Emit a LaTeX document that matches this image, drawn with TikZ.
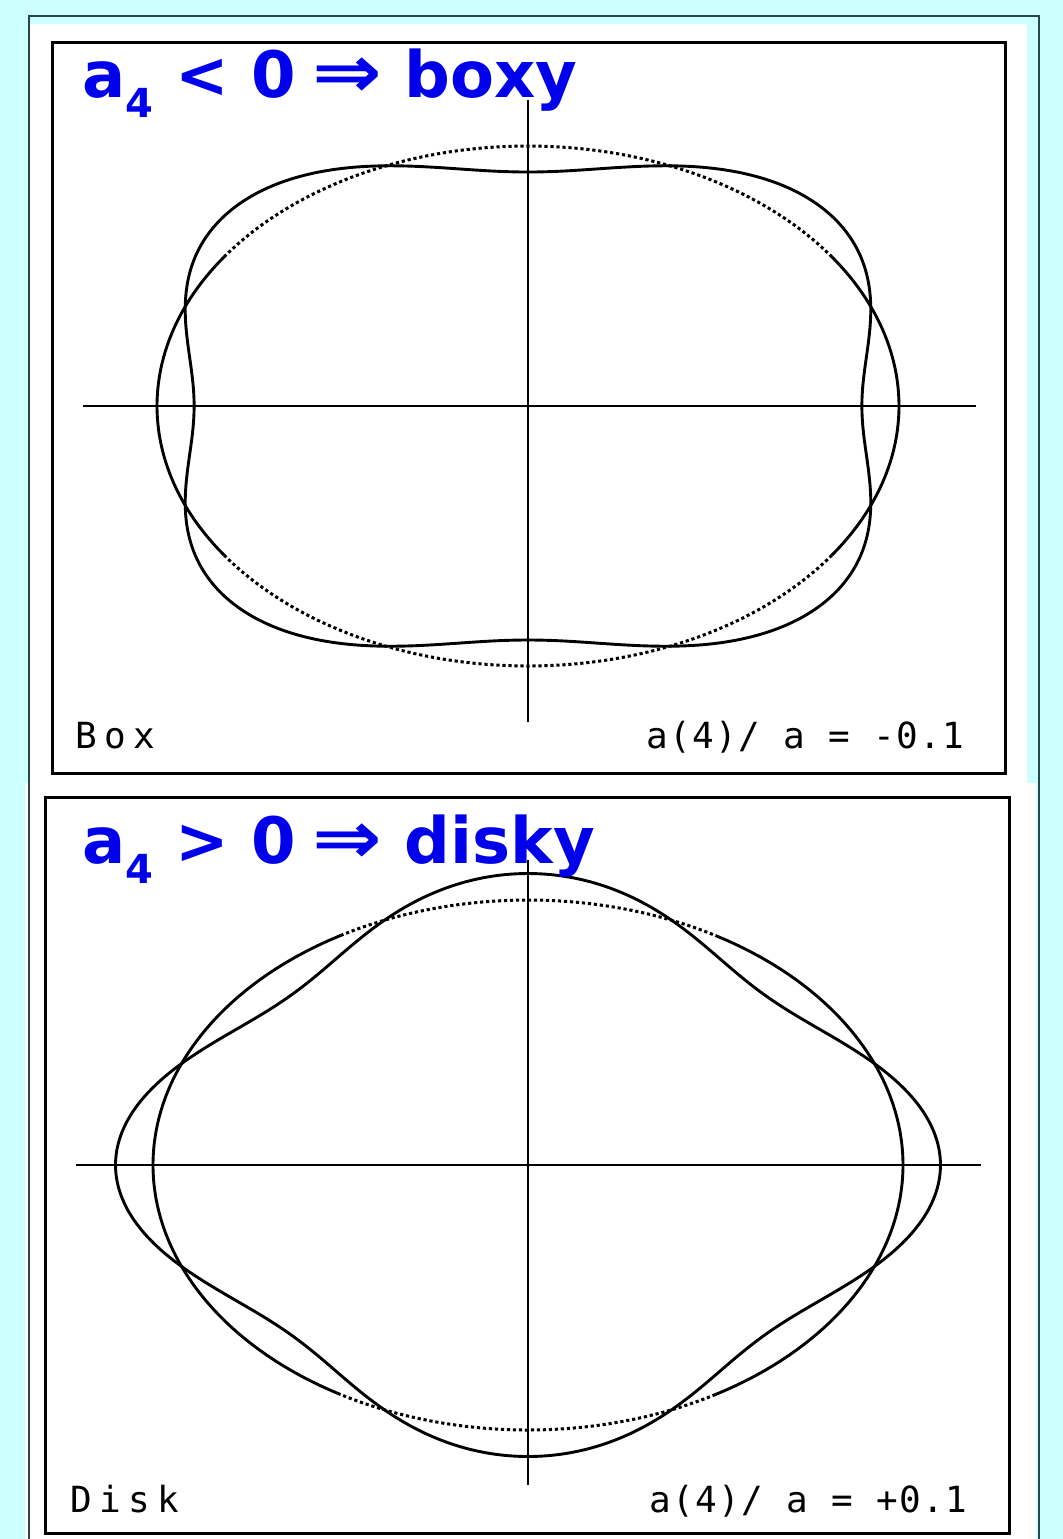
\documentclass[tikz,border=0pt]{standalone}
\usepackage{fontspec}
\setmainfont{DejaVu Sans}
\newfontfamily\plotfont{DejaVu Sans Mono}[LetterSpace=4]
\newfontfamily\widefont{DejaVu Sans Mono}[LetterSpace=20]
\usepackage{xcolor}
\usepackage{tikz}
\usetikzlibrary{positioning}

\definecolor{pagecyan}{RGB}{204,255,255}
\definecolor{framegrey}{RGB}{40,70,70}
\definecolor{titleblue}{RGB}{0,0,235}

\tikzset{
  plotframe/.style={draw=black,line width=1.5pt},
  axisline/.style={line width=1.3pt},
  isophote/.style={line width=1.45pt,line join=round},
  ellipsedots/.style={line width=1.5pt,dash pattern=on 1.6pt off 1.4pt},
  titletext/.style={anchor=base west,inner sep=0pt,text=titleblue,
    font=\fontsize{32}{36}\selectfont\bfseries},
  plotlabel/.style={inner sep=0pt,font=\plotfont\fontsize{18}{20}\selectfont},
  namelabel/.style={inner sep=0pt,anchor=base west,font=\widefont\fontsize{18}{20}\selectfont}
}
\newcommand{\subfour}{\raisebox{-10pt}{\fontsize{20}{22}\selectfont 4}}
\newcommand{\bigimplies}{\hspace{-3pt}\scalebox{1.3}[1.15]{⇒}}

\begin{document}
\begin{tikzpicture}[x=0.5pt,y=-0.5pt,line width=0.6pt]
  \useasboundingbox (0,0) rectangle (1063,1539);
  \fill[pagecyan] (0,0) rectangle (1063,1539);
  \fill[white] (29,24) rectangle (1027,783);
  \fill[white] (25,783) rectangle (1036,1539);
  \draw[framegrey,line width=0.75pt] (29,1539) -- (29,16) -- (1039,16) -- (1039,1539);

  % boxy panel
  \draw[plotframe] (52,42) rectangle (1005,773);
  \draw[axisline] (83,406) -- (976,406);
  \draw[axisline] (528,100) -- (528,722);
  \draw[isophote] plot[domain=-35:35,samples=40,smooth] ({528+371*cos(\x)},{406+260*sin(\x)});
  \draw[isophote] plot[domain=145:215,samples=40,smooth] ({528+371*cos(\x)},{406+260*sin(\x)});
  \draw[ellipsedots] plot[domain=35:145,samples=60,smooth] ({528+371*cos(\x)},{406+260*sin(\x)});
  \draw[ellipsedots] plot[domain=215:325,samples=60,smooth] ({528+371*cos(\x)},{406+260*sin(\x)});
  \draw[isophote] plot[domain=0:360,samples=241,smooth cycle]
    ({528+371*cos(\x)*(1-0.1*cos(4*\x))},{406+260*sin(\x)*(1-0.1*cos(4*\x))});
  \node[namelabel] (boxlabel) at (75,748) {Box};
  \node[plotlabel,anchor=base east] (boxvalue) at (965,748) {a(4)/ a = -0.1};
  \node[titletext] (boxytitle) at (82,97) {a\subfour{} < 0 \bigimplies{} boxy};

  % disky panel
  \draw[plotframe] (45,797) rectangle (1009,1533);
  \draw[axisline] (76,1165) -- (981,1165);
  \draw[axisline] (528,860) -- (528,1485);
  \draw[isophote] plot[domain=-60:60,samples=60,smooth] ({528+375*cos(\x)},{1165+265*sin(\x)});
  \draw[isophote] plot[domain=120:240,samples=60,smooth] ({528+375*cos(\x)},{1165+265*sin(\x)});
  \draw[ellipsedots] plot[domain=60:120,samples=40,smooth] ({528+375*cos(\x)},{1165+265*sin(\x)});
  \draw[ellipsedots] plot[domain=240:300,samples=40,smooth] ({528+375*cos(\x)},{1165+265*sin(\x)});
  \draw[isophote] plot[domain=0:360,samples=241,smooth cycle]
    ({528+375*cos(\x)*(1+0.1*cos(4*\x))},{1165+265*sin(\x)*(1+0.1*cos(4*\x))});
  \node[namelabel] (disklabel) at (70,1512) {Disk};
  \node[plotlabel,anchor=base east] (diskvalue) at (968,1512) {a(4)/ a = +0.1};
  \node[titletext] (diskytitle) at (82,863) {a\subfour{} > 0 \bigimplies{} disky};
\end{tikzpicture}
\end{document}
